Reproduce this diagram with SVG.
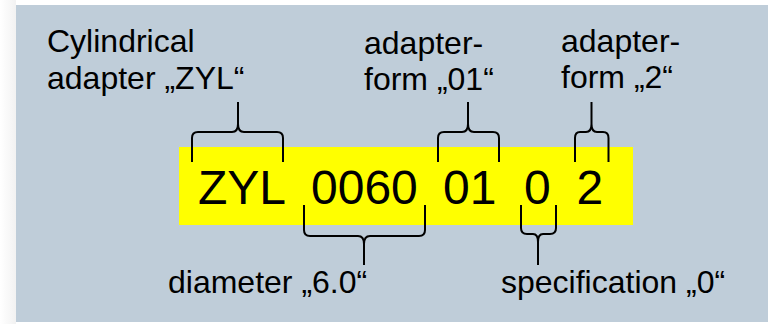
<svg xmlns="http://www.w3.org/2000/svg" width="770" height="324" viewBox="0 0 770 324">
<defs>
<linearGradient id="edge" x1="0" y1="0" x2="1" y2="0">
<stop offset="0" stop-color="#ffffff"/>
<stop offset="1" stop-color="#f2f2f2"/>
</linearGradient>
<style>
.lbl{font-family:"Liberation Sans",Arial,sans-serif;font-size:32px;fill:#000}
.code{font-family:"Liberation Sans",Arial,sans-serif;font-size:48px;fill:#000}
.brace{fill:none;stroke:#000;stroke-width:2;stroke-linejoin:round;stroke-linecap:butt}
</style>
</defs>
<rect x="0" y="0" width="770" height="324" fill="#ffffff"/>
<rect x="0" y="0" width="16" height="324" fill="url(#edge)"/>
<rect id="panel" x="16" y="5" width="752" height="317" fill="#bfcdd9"/>
<g id="code">
<rect x="179" y="147" width="454" height="78" fill="#ffff00"/>
<text class="code" x="198" y="204">ZYL</text>
<text class="code" x="311" y="204">0060</text>
<text class="code" x="443" y="204">01</text>
<text class="code" x="524" y="204">0</text>
<text class="code" x="576.5" y="204">2</text>
</g>
<g id="label-zyl">
<text class="lbl" x="47" y="52">Cylindrical</text>
<text class="lbl" x="47" y="88.5">adapter „ZYL“</text>
</g>
<g id="label-form01">
<text class="lbl" x="364" y="54">adapter-</text>
<text class="lbl" x="364" y="90">form „01“</text>
</g>
<g id="label-form2">
<text class="lbl" x="561" y="51.5">adapter-</text>
<text class="lbl" x="561" y="87.5">form „2“</text>
</g>
<g id="label-diameter">
<text class="lbl" x="168" y="292.5">diameter „6.0“</text>
</g>
<g id="label-spec">
<text class="lbl" x="501" y="292.5">specification „0“</text>
</g>
<g id="connectors">
<path class="brace" d="M192,162 V138 Q192,132 198,132 H232 Q238,132 238,124 V102 M238,124 Q238,132 244,132 H277 Q283,132 283,138 V162"/>
<path class="brace" d="M438,162 V138 Q438,132 444,132 H462 Q468,132 468,124 V102 M468,124 Q468,132 474,132 H493 Q499,132 499,138 V162"/>
<path class="brace" d="M575,162 V138 Q575,132 580,132 H586 Q591.5,132 591.5,124 V102 M591.5,124 Q591.5,132 597,132 H603 Q608.5,132 608.5,138 V162"/>
<path class="brace" d="M304,205 V230 Q304,236 310,236 H358 Q364,236 364,244 V265 M364,244 Q364,236 370,236 H419 Q425,236 425,230 V205"/>
<path class="brace" d="M521,205 V228 Q521,234 527,234 H533 Q538,234 538,242 V265 M538,242 Q538,234 543,234 H550 Q556,234 556,228 V205"/>
</g>
</svg>
